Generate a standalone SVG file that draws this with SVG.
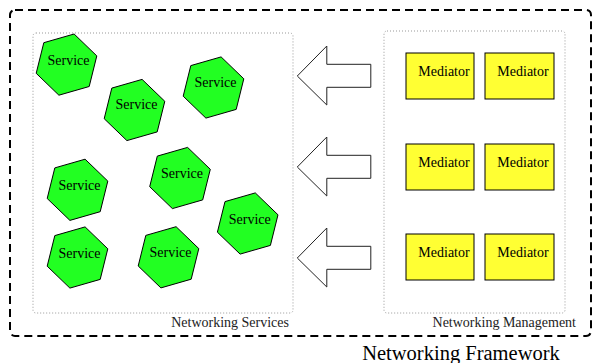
<svg xmlns="http://www.w3.org/2000/svg" width="593" height="363" viewBox="0 0 593 363">
  <style>
    .frame { fill: none; stroke: #000; stroke-width: 2; stroke-dasharray: 8 5; }
    .area { fill: none; stroke: #999; stroke-width: 1; stroke-dasharray: 1 2; }
    .area-label { font-family: "Liberation Serif", "Times New Roman", serif; font-size: 14px; fill: #222; text-anchor: end; }
    .title { font-family: "Liberation Serif", "Times New Roman", serif; font-size: 20.5px; fill: #000; text-anchor: middle; }
    .hex { fill: #22ff22; stroke: #000; stroke-width: 1; }
    .med { fill: #ffff33; stroke: #000; stroke-width: 1; }
    .lbl { font-family: "Liberation Serif", "Times New Roman", serif; font-size: 14px; fill: #000; text-anchor: middle; }
    .flow { fill: #fff; stroke: #222; stroke-width: 1; }
  </style>
  <defs>
    <polygon id="hexShape" points="7.6,-30.6 30.3,-8.7 22.7,21.9 -7.6,30.6 -30.3,8.7 -22.7,-21.9"/>
    <path id="leftArrow" d="M 0,0 L 29.5,-30 L 29.5,-11.7 L 73.5,-11.7 L 73.5,11.3 L 29.5,11.3 L 29.5,29 Z"/>
  </defs>

  <!-- outer framework boundary -->
  <rect class="frame" x="10" y="10" width="581" height="326" rx="5"/>
  <text class="title" x="461" y="360">Networking Framework</text>

  <!-- service area -->
  <g id="networking-services">
    <rect class="area" x="33" y="33" width="260" height="280" rx="3"/>
    <text class="area-label" x="289" y="327">Networking Services</text>
  </g>

  <!-- management area -->
  <g id="networking-management">
    <rect class="area" x="384" y="31" width="181" height="282" rx="3"/>
    <text class="area-label" x="576" y="327">Networking Management</text>
  </g>

  <!-- services -->
  <g id="service-1" transform="translate(66.5,64.6)"><use href="#hexShape" class="hex"/><text class="lbl" x="2" y="0">Service</text></g>
  <g id="service-2" transform="translate(134.5,110)"><use href="#hexShape" class="hex"/><text class="lbl" x="2" y="-1">Service</text></g>
  <g id="service-3" transform="translate(213.5,87.5)"><use href="#hexShape" class="hex"/><text class="lbl" x="2" y="-1">Service</text></g>
  <g id="service-4" transform="translate(77.5,189.8)"><use href="#hexShape" class="hex"/><text class="lbl" x="2" y="0">Service</text></g>
  <g id="service-5" transform="translate(180,178)"><use href="#hexShape" class="hex"/><text class="lbl" x="2" y="0">Service</text></g>
  <g id="service-6" transform="translate(247.7,223.5)"><use href="#hexShape" class="hex"/><text class="lbl" x="2" y="0">Service</text></g>
  <g id="service-7" transform="translate(77.5,257.5)"><use href="#hexShape" class="hex"/><text class="lbl" x="2" y="0">Service</text></g>
  <g id="service-8" transform="translate(168.5,257.3)"><use href="#hexShape" class="hex"/><text class="lbl" x="2" y="0">Service</text></g>

  <!-- mediators -->
  <g id="mediator-1"><rect class="med" x="406" y="53" width="68" height="46"/><text class="lbl" x="444" y="76">Mediator</text></g>
  <g id="mediator-2"><rect class="med" x="485" y="53" width="69" height="46"/><text class="lbl" x="523" y="76">Mediator</text></g>
  <g id="mediator-3"><rect class="med" x="406" y="144" width="68" height="46"/><text class="lbl" x="444" y="167">Mediator</text></g>
  <g id="mediator-4"><rect class="med" x="485" y="144" width="69" height="46"/><text class="lbl" x="523" y="167">Mediator</text></g>
  <g id="mediator-5"><rect class="med" x="406" y="234" width="68" height="46"/><text class="lbl" x="444" y="257">Mediator</text></g>
  <g id="mediator-6"><rect class="med" x="485" y="234" width="69" height="46"/><text class="lbl" x="523" y="257">Mediator</text></g>

  <!-- block arrows from management to services -->
  <g id="connectors">
    <use href="#leftArrow" class="flow" transform="translate(297.3,76)"/>
    <use href="#leftArrow" class="flow" transform="translate(297.3,167)"/>
    <use href="#leftArrow" class="flow" transform="translate(297.3,258)"/>
  </g>
</svg>
